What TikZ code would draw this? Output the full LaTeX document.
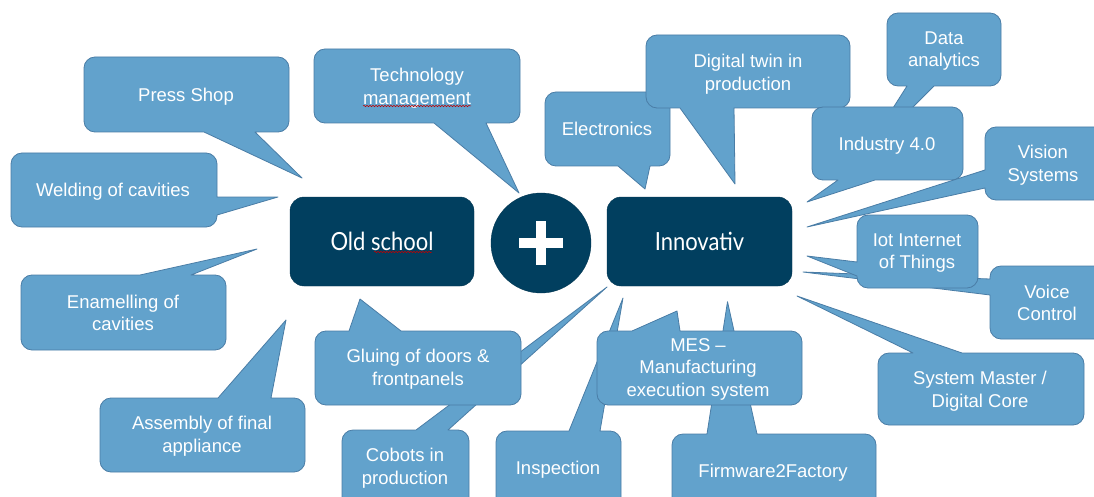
\documentclass[tikz,border=0pt]{standalone}
\usepackage{fontspec}
\setmainfont{Liberation Sans}
\newfontfamily\centerfont[FakeStretch=0.88]{Lato}
\usetikzlibrary{decorations.pathmorphing}
\definecolor{bfill}{HTML}{62A2CC}
\definecolor{bline}{HTML}{4A7DA6}
\definecolor{navy}{HTML}{013F5F}
% callout with pointer on top edge
\newcommand\bubT[8]{\path[bub] (#1,#2+11) .. controls (#1,#2+5) and (#1+5,#2) .. (#1+11,#2) -- (#5,#2) -- (#7,#8) -- (#6,#2) -- (#3-11,#2) .. controls (#3-5,#2) and (#3,#2+5) .. (#3,#2+11) -- (#3,#4-11) .. controls (#3,#4-5) and (#3-5,#4) .. (#3-11,#4) -- (#1+11,#4) .. controls (#1+5,#4) and (#1,#4-5) .. (#1,#4-11) -- cycle;}
% pointer on bottom edge
\newcommand\bubB[8]{\path[bub] (#1,#2+11) .. controls (#1,#2+5) and (#1+5,#2) .. (#1+11,#2) -- (#3-11,#2) .. controls (#3-5,#2) and (#3,#2+5) .. (#3,#2+11) -- (#3,#4-11) .. controls (#3,#4-5) and (#3-5,#4) .. (#3-11,#4) -- (#6,#4) -- (#7,#8) -- (#5,#4) -- (#1+11,#4) .. controls (#1+5,#4) and (#1,#4-5) .. (#1,#4-11) -- cycle;}
% pointer on right edge
\newcommand\bubR[8]{\path[bub] (#1,#2+11) .. controls (#1,#2+5) and (#1+5,#2) .. (#1+11,#2) -- (#3-11,#2) .. controls (#3-5,#2) and (#3,#2+5) .. (#3,#2+11) -- (#3,#5) -- (#7,#8) -- (#3,#6) -- (#3,#4-11) .. controls (#3,#4-5) and (#3-5,#4) .. (#3-11,#4) -- (#1+11,#4) .. controls (#1+5,#4) and (#1,#4-5) .. (#1,#4-11) -- cycle;}
% pointer on left edge
\newcommand\bubL[8]{\path[bub] (#1,#2+11) .. controls (#1,#2+5) and (#1+5,#2) .. (#1+11,#2) -- (#3-11,#2) .. controls (#3-5,#2) and (#3,#2+5) .. (#3,#2+11) -- (#3,#4-11) .. controls (#3,#4-5) and (#3-5,#4) .. (#3-11,#4) -- (#1+11,#4) .. controls (#1+5,#4) and (#1,#4-5) .. (#1,#4-11) -- (#1,#6) -- (#7,#8) -- (#1,#5) -- cycle;}
\begin{document}
\begin{tikzpicture}[x=1pt,y=-1pt,
  bub/.style={fill=bfill, draw=bline, line width=0.8pt, line join=round},
  txt/.style={text=white, font=\fontsize{18.5}{22.5}\selectfont, align=center, inner sep=0pt},
  one/.style={text height=1.5ex, text depth=.25ex, yshift=-3pt},
  darkbox/.style={fill=navy, draw=navy!85!black, rounded corners=14pt, text=white, minimum width=184pt, minimum height=89pt, font=\centerfont\fontsize{25}{28}\selectfont},
  spell/.style={draw=red!75!black, line width=0.5pt, decorate, decoration={snake, amplitude=0.7pt, segment length=3pt}}]
\useasboundingbox (0,0) rectangle (1094,497);
\fill[white] (0,0) rectangle (1094,497);

% central nodes
\node[darkbox] (old) at (382,241.5) {Old school};
\node[circle, fill=navy, draw=navy!85!black, minimum size=100pt, inner sep=0pt] (plus) at (541,243) {};
\fill[white] (519,238) rectangle (563,248);
\fill[white] (536,221) rectangle (546,265);
\node[darkbox, minimum width=185pt] (inno) at (699.5,241.5) {Innovativ};
\draw[spell] (374,252) -- (432,252);

% left side callouts
\bubB{84}{57}{289}{132}{204}{255}{302}{178}
\node[txt, one] (press) at (186,95) {Press Shop};
\bubR{11}{153}{217}{227}{197}{215}{278}{197}
\node[txt, one] (weld) at (113,190) {Welding of cavities};
\bubT{21}{275}{226}{350}{140}{191}{257}{249}
\node[txt] (enam) at (123,313) {Enamelling of\\cavities};
\bubT{100}{398}{305}{472}{218}{271}{286}{320}
\node[txt] (assy) at (202,436) {Assembly of final\\appliance};

% top callouts
\bubB{314}{49}{520}{123}{434}{486}{519}{193}
\node[txt] (tech) at (417,88) {Technology\\management};
\draw[spell] (363,106) -- (471,106);
\bubB{545}{92}{670}{166}{618}{650}{645}{189}
\node[txt, one] (elec) at (607,129) {Electronics};
\bubB{646}{35}{850}{108}{680}{734}{735}{184}
\node[txt] (twin) at (748,74) {Digital twin in\\production};
\bubB{887}{13}{1001}{86}{907}{934}{860}{160}
\node[txt] (data) at (944,51) {Data\\analytics};
\bubB{812}{107}{963}{180}{838}{875}{807}{202}
\node[txt, one] (ind) at (887,144) {Industry 4.0};

% right callouts
\bubL{985}{127}{1110}{200}{170}{188}{807}{227}
\node[txt] (vision) at (1043,165) {Vision\\Systems};
\bubL{990}{266}{1110}{339}{279}{295}{803}{272}
\node[txt] (voice) at (1047,303) {Voice\\Control};
\bubL{857}{215}{978}{288}{262}{276}{807}{256}
\node[txt] (iot) at (917,253) {Iot Internet\\of Things};
\bubT{878}{353}{1084}{425}{913}{962}{797}{296}
\node[txt] (sys) at (980,391) {System Master /\\Digital Core};

% bottom callouts
\bubT{342}{430}{469}{515}{416}{448}{607}{287}
\node[txt] (cobot) at (405,468) {Cobots in\\production};
\bubT{315}{331}{521}{405}{349}{401}{360}{299}
\node[txt] (glue) at (418,369) {Gluing of doors \&\\frontpanels};
\bubT{496}{431}{621}{515}{569}{600}{623}{298}
\node[txt, one] (insp) at (558,468) {Inspection};
\bubT{672}{434}{876}{515}{707}{757}{727.5}{301.7}
\node[txt, one] (firm) at (773,471) {Firmware2Factory};
\bubT{597}{331}{802}{405}{632}{680}{677}{311}
\node[txt] (mes) at (698,369) {MES --\\Manufacturing\\execution system};
\end{tikzpicture}
\end{document}
